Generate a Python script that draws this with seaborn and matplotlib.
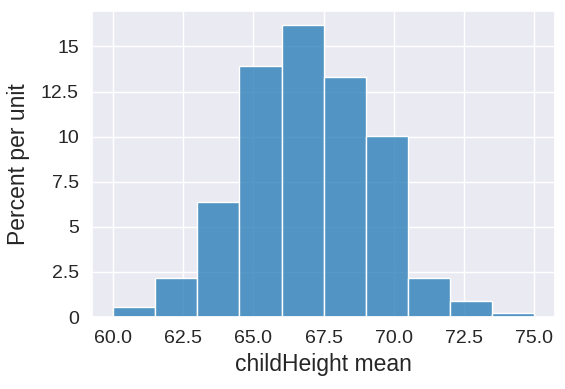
import numpy as np
import matplotlib
matplotlib.use("Agg")
import matplotlib.pyplot as plt
import seaborn as sns

# bin edges of the histogram (childHeight mean)
bin_edges = [60.0, 61.5, 63.0, 64.5, 66.0, 67.5, 69.0, 70.5, 72.0, 73.5, 75.0]
# bar heights, percent per unit
percent_per_unit = [0.57, 2.18, 6.4, 13.9, 16.17, 13.28, 10.06, 2.17, 0.89, 0.22]
y_ticks = [0, 2.5, 5, 7.5, 10, 12.5, 15]
x_ticks = [60.0, 62.5, 65.0, 67.5, 70.0, 72.5, 75.0]

sns.set_theme(style="darkgrid")
plt.rcParams['font.family'] = ['Liberation Sans', 'DejaVu Sans']

centers = [(a + b) / 2 for a, b in zip(bin_edges[:-1], bin_edges[1:])]

fig = plt.figure(figsize=(5.65, 3.89), dpi=100)
ax = fig.add_axes([0.163, 0.185, 0.8195, 0.7874])

sns.histplot(x=centers, weights=percent_per_unit, bins=bin_edges,
             color='#1f77b4', ax=ax)

ax.set_yticks(y_ticks)
ax.set_yticklabels([f'{t:g}' for t in y_ticks])
ax.set_xticks(x_ticks)
ax.set_xticklabels([f'{t:.1f}' for t in x_ticks])
ax.tick_params(labelsize=14, colors='#262626')
ax.set_xlabel('childHeight mean', fontsize=16.5)
ax.set_ylabel('Percent per unit', fontsize=16.5, labelpad=8)

plt.savefig('out.png', dpi=100)
